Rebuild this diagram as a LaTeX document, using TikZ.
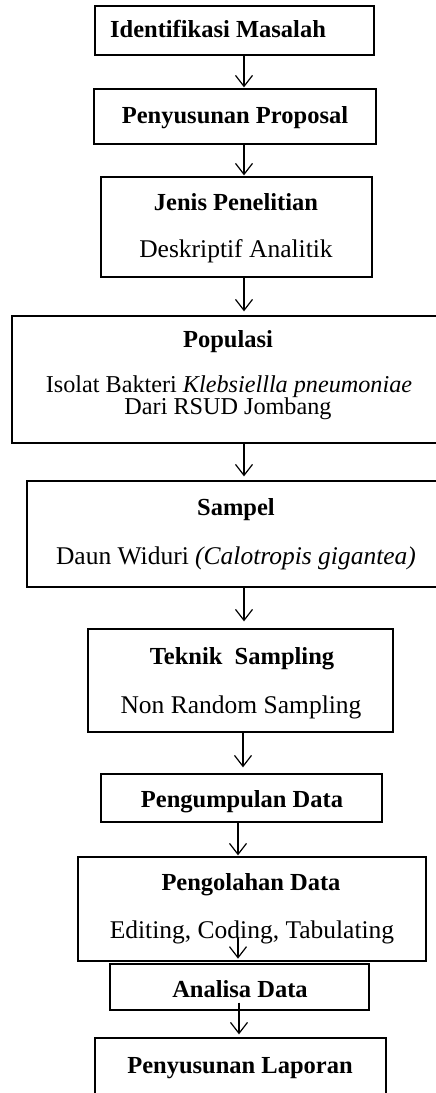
\documentclass[tikz,border=0pt]{standalone}
\usepackage{fontspec}
\setmainfont{Liberation Serif}
\usetikzlibrary{arrows.meta,calc}
\begin{document}
\begin{tikzpicture}[x=1pt,y=1pt,
  box/.style={draw=black,line width=1.3pt,rectangle,inner sep=0pt},
  hd/.style={anchor=base,inner sep=0pt,font=\fontsize{24.5}{29}\selectfont\bfseries},
  tx/.style={anchor=base,inner sep=0pt,font=\fontsize{25.5}{30}\selectfont},
  txs/.style={anchor=base,inner sep=0pt,font=\fontsize{24.2}{29}\selectfont},
  arr/.style={line width=1.2pt,-{Straight Barb[length=11pt,width=17pt,line width=1.2pt]}}]
\useasboundingbox (0,0) rectangle (436,-1093);
\begin{scope}
\clip (0,0) rectangle (436,-1093);
% boxes
\node[box,minimum width=279pt,minimum height=49pt] (b1) at (234.5,-30.5) {};
\node[box,minimum width=282pt,minimum height=55pt] (b2) at (235,-116.5) {};
\node[box,minimum width=271pt,minimum height=100pt] (b3) at (236.5,-227) {};
\node[box,minimum width=448pt,minimum height=127pt] (b4) at (236,-379.5) {};
\node[box,minimum width=423pt,minimum height=106pt] (b5) at (238.5,-534) {};
\node[box,minimum width=305pt,minimum height=103pt] (b6) at (240.5,-680.5) {};
\node[box,minimum width=281pt,minimum height=48pt] (b7) at (241.5,-798) {};
\node[box,minimum width=348pt,minimum height=104pt] (b8) at (252,-909) {};
\node[box,minimum width=259pt,minimum height=46pt] (b9) at (239.5,-987) {};
\node[box,minimum width=291pt,minimum height=72pt] (b10) at (240.5,-1074) {};
% texts
\node[hd] (t1) at (218,-37) {Identifikasi Masalah};
\node[hd] (t2) at (235,-123) {Penyusunan Proposal};
\node[hd] (t3a) at (236,-210) {Jenis Penelitian};
\node[tx] (t3b) at (236,-257) {Deskriptif Analitik};
\node[hd] (t4a) at (228,-347) {Populasi};
\node[txs] (t4b) at (229,-392) {Isolat Bakteri \textit{Klebsiellla pneumoniae}};
\node[txs] (t4c) at (228,-414) {Dari RSUD Jombang};
\node[hd] (t5a) at (236,-515) {Sampel};
\node[tx] (t5b) at (236,-564) {Daun Widuri \textit{(Calotropis gigantea)}};
\node[hd] (t6a) at (242,-664) {Teknik\ \ Sampling};
\node[tx] (t6b) at (241,-713) {Non Random Sampling};
\node[hd] (t7) at (242,-807) {Pengumpulan Data};
\node[hd] (t8a) at (251,-890) {Pengolahan Data};
\node[tx] (t8b) at (252,-938) {Editing, Coding, Tabulating};
\node[hd] (t9) at (240,-997) {Analisa Data};
\node[hd] (t10) at (240,-1073) {Penyusunan Laporan};
% arrow columns
\coordinate (xa) at (244,0);
\coordinate (xb) at (243,0);
\coordinate (xc) at (238,0);
\coordinate (xd) at (239,0);
\draw[arr] (b1.south -| xa) -- ($(b2.north -| xa)+(0,1)$);
\draw[arr] (b2.south -| xa) -- ($(b3.north -| xa)+(0,1)$);
\draw[arr] (b3.south -| xa) -- ($(b4.north -| xa)+(0,4)$);
\draw[arr] (b4.south -| xa) -- ($(b5.north -| xa)+(0,4)$);
\draw[arr] (b5.south -| xa) -- ($(b6.north -| xa)+(0,7)$);
\draw[arr] (b6.south -| xb) -- ($(b7.north -| xb)+(0,6)$);
\draw[arr] (b7.south -| xc) -- ($(b8.north -| xc)+(0,1)$);
\draw[arr] ($(b8.south -| xc)+(0,24)$) -- ($(b8.south -| xc)+(0,3)$);
\draw[arr] ($(b9.south -| xd)+(0,8)$) -- ($(b10.north -| xd)+(0,3)$);
\end{scope}
\end{tikzpicture}
\end{document}
